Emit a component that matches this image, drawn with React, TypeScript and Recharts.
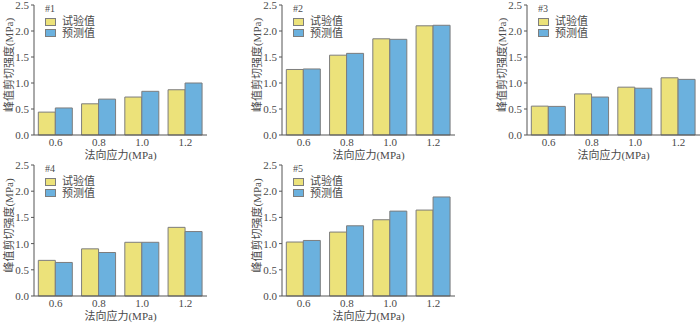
import React from 'react';
import { BarChart, Bar, XAxis, YAxis, Legend, Label } from 'recharts';

const categories = ['0.6', '0.8', '1.0', '1.2'];
const yTicks = [0, 0.5, 1, 1.5, 2, 2.5];
const seriesNames = ['试验值', '预测值'];
const panelTags = ['#1', '#2', '#3', '#4', '#5'];

const test1 = [0.44, 0.6, 0.73, 0.87];
const pred1 = [0.52, 0.69, 0.84, 1.0];
const test2 = [1.26, 1.535, 1.85, 2.1];
const pred2 = [1.27, 1.57, 1.84, 2.11];
const test3 = [0.555, 0.79, 0.92, 1.1];
const pred3 = [0.55, 0.73, 0.9, 1.07];
const test4 = [0.68, 0.9, 1.025, 1.31];
const pred4 = [0.64, 0.83, 1.025, 1.23];
const test5 = [1.03, 1.22, 1.455, 1.64];
const pred5 = [1.06, 1.34, 1.62, 1.89];

const xLabel = '法向应力(MPa)';
const yLabel = '峰值剪切强度(MPa)';

const FONT = '"Liberation Serif", "Noto Sans CJK SC", serif';
const TEXT = '#4a4a4a';
const AXIS = '#555555';
const YELLOW = '#ece27a';
const BLUE = '#6bb1de';
const STROKE = '#7d7d7d';

function makeLegend(tag: string) {
  return () => (
    <div style={{ fontFamily: FONT, color: TEXT, lineHeight: '11px' }}>
      <div style={{ fontSize: 10, height: 11, lineHeight: '11px', marginBottom: 2 }}>{tag}</div>
      {[YELLOW, BLUE].map((c, i) => (
        <div key={i} style={{ display: 'flex', alignItems: 'center', height: 11, fontSize: 11, marginBottom: 0.5 }}>
          <span
            style={{
              display: 'inline-block',
              width: 9,
              height: 6,
              background: c,
              border: `1px solid ${STROKE}`,
              marginRight: 6,
            }}
          />
          <span>{seriesNames[i]}</span>
        </div>
      ))}
    </div>
  );
}

function Panel(props: {
  left: number;
  top: number;
  height: number;
  xh: number;
  tag: string;
  test: number[];
  pred: number[];
}) {
  const { left, top, height, xh, tag, test, pred } = props;
  const data = categories.map((c, i) => ({ cat: c, test: test[i], pred: pred[i] }));
  return (
    <div style={{ position: 'absolute', left, top }}>
      <BarChart
        width={207}
        height={height}
        data={data}
        margin={{ top: 5, right: 0, bottom: 0, left: 0 }}
        barCategoryGap="10%"
        barGap={0}
      >
        <XAxis
          dataKey="cat"
          height={xh}
          tickLine={false}
          tickSize={2}
          tickMargin={1}
          axisLine={{ stroke: AXIS }}
          tick={{ fill: TEXT, fontSize: 11, fontFamily: FONT }}
          interval={0}
        >
          <Label
            content={(p: any) => {
              const vb = p.viewBox || { x: 34, y: 135, width: 173, height: 26 };
              return (
                <text
                  x={vb.x + vb.width / 2}
                  y={vb.y + 20}
                  textAnchor="middle"
                  dominantBaseline="central"
                  fill={TEXT}
                  fontSize={11}
                  fontFamily={FONT}
                >
                  {xLabel}
                </text>
              );
            }}
          />
        </XAxis>
        <YAxis
          width={34}
          domain={[0, 2.5]}
          ticks={yTicks}
          interval={0}
          tickFormatter={(v: number) => v.toFixed(1)}
          tickSize={3}
          tickMargin={2}
          axisLine={{ stroke: AXIS }}
          tickLine={{ stroke: AXIS }}
          tick={{ fill: TEXT, fontSize: 11, fontFamily: FONT }}
        >
          <Label
            content={(p: any) => {
              const vb = p.viewBox || { x: 0, y: 5, width: 34, height: 130 };
              const cx = vb.x + 9;
              const cy = vb.y + vb.height / 2 - 5;
              return (
                <text
                  x={cx}
                  y={cy}
                  transform={`rotate(-90 ${cx} ${cy})`}
                  textAnchor="middle"
                  dominantBaseline="central"
                  fill={TEXT}
                  fontSize={11}
                  fontFamily={FONT}
                >
                  {yLabel}
                </text>
              );
            }}
          />
        </YAxis>
        <Legend
          layout="vertical"
          align="center"
          verticalAlign="middle"
          content={makeLegend(tag)}
          wrapperStyle={{ left: 45, top: 3, width: 'auto', height: 'auto' }}
        />
        <Bar dataKey="test" name={seriesNames[0]} fill={YELLOW} stroke={STROKE} strokeWidth={1} isAnimationActive={false} />
        <Bar dataKey="pred" name={seriesNames[1]} fill={BLUE} stroke={STROKE} strokeWidth={1} isAnimationActive={false} />
      </BarChart>
    </div>
  );
}

export default function App() {
  return (
    <div style={{ position: 'absolute', left: 0, top: 0, width: 700, height: 323, background: '#fff', overflow: 'hidden' }}>
      <Panel left={0} top={0} height={161} xh={26} tag={panelTags[0]} test={test1} pred={pred1} />
      <Panel left={248} top={0} height={161} xh={26} tag={panelTags[1]} test={test2} pred={pred2} />
      <Panel left={493} top={0} height={161} xh={26} tag={panelTags[2]} test={test3} pred={pred3} />
      <Panel left={0} top={160} height={163} xh={27} tag={panelTags[3]} test={test4} pred={pred4} />
      <Panel left={248} top={160} height={163} xh={27} tag={panelTags[4]} test={test5} pred={pred5} />
    </div>
  );
}
